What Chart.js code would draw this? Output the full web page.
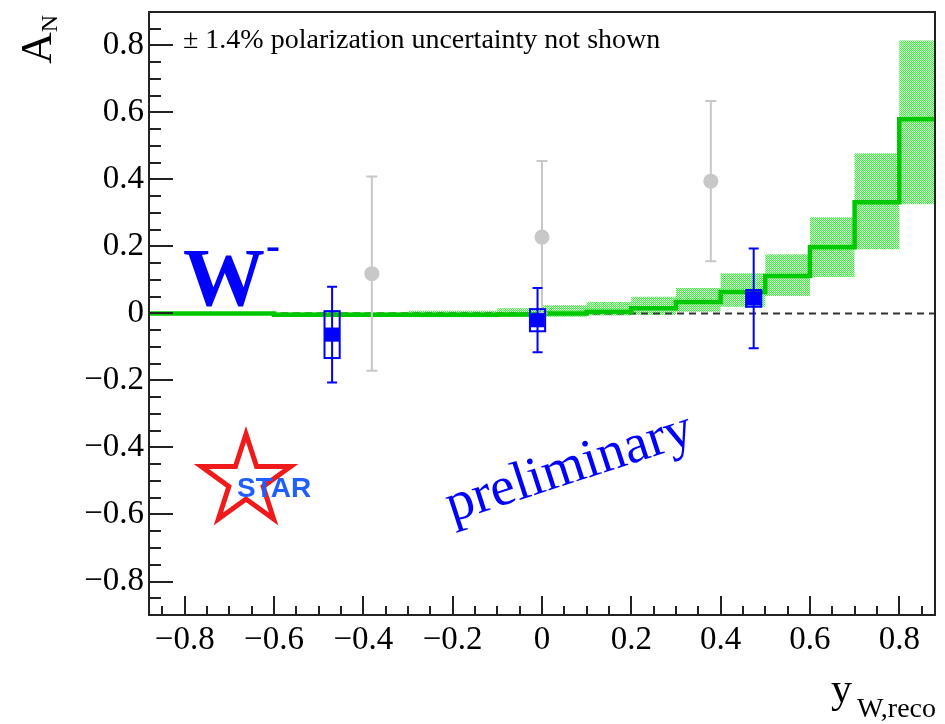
<!DOCTYPE html>
<html>
<head>
<meta charset="utf-8">
<script src="https://cdn.jsdelivr.net/npm/chart.js@4.4.1/dist/chart.umd.min.js"></script>
<style>
  html, body { margin: 0; padding: 0; background: #fff; }
  #wrap { width: 945px; height: 724px; }
</style>
</head>
<body>
<div id="wrap"><canvas id="chart" width="945" height="724"></canvas></div>
<script>
(function () {
  'use strict';

  /* ── Data ─────────────────────────────────────── */

  // theory histogram: 0.1 wide bins from -0.9 to 0.9
  const BIN_EDGES = [-0.9, -0.8, -0.7, -0.6, -0.5, -0.4, -0.3, -0.2, -0.1, 0,
                     0.1, 0.2, 0.3, 0.4, 0.5, 0.6, 0.7, 0.8, 0.9];
  const THEORY  = [0, 0, 0, -0.004, -0.004, -0.004, -0.004, -0.004, -0.003,
                   0, 0.005, 0.016, 0.034, 0.064, 0.112, 0.198, 0.332, 0.58];
  const BAND_LO = [-0.002, -0.002, -0.002, -0.01, -0.01, -0.01, -0.011, -0.011, -0.01,
                   -0.01, -0.006, -0.004, 0.005, 0.02, 0.052, 0.109, 0.192, 0.326];
  const BAND_HI = [0.002, 0.002, 0.002, 0.004, 0.004, 0.004, 0.008, 0.008, 0.016,
                   0.025, 0.034, 0.05, 0.076, 0.12, 0.177, 0.287, 0.478, 0.815];

  // STAR W- points (blue): value, stat. error, syst. error
  const BLUE_X    = [-0.47, -0.01, 0.474];
  const BLUE_Y    = [-0.063, -0.02, 0.045];
  const BLUE_STAT = [0.143, 0.096, 0.149];
  const BLUE_SYST = [0.07, 0.033, 0.025];

  // earlier points (grey)
  const GRAY_X   = [-0.381, 0.0, 0.378];
  const GRAY_Y   = [0.119, 0.228, 0.395];
  const GRAY_ERR = [0.29, 0.227, 0.239];

  const X_TICKS = [-0.8, -0.6, -0.4, -0.2, 0, 0.2, 0.4, 0.6, 0.8];
  const Y_TICKS = [-0.8, -0.6, -0.4, -0.2, 0, 0.2, 0.4, 0.6, 0.8];
  const X_MIN = -0.88, X_MAX = 0.88, Y_MIN = -0.9, Y_MAX = 0.9;
  const MINOR_STEP = 0.05;
  const BOX_HALF_W = 0.017;

  /* ── Helpers ───────────────────────────────────── */

  const SERIF = '"Liberation Serif", "DejaVu Serif", serif';

  function fmt(v) {
    if (Math.abs(v) < 1e-9) return '0';
    return (v < 0 ? '\u2212' : '') + Math.abs(v).toFixed(1);
  }

  function stepPoints(vals) {
    return BIN_EDGES.map((e, i) => ({ x: e, y: vals[Math.min(i, vals.length - 1)] }));
  }

  function points(xs, ys) {
    return xs.map((x, i) => ({ x: x, y: ys[i] }));
  }

  // ROOT-like dotted fill
  function dotPattern(color, light) {
    const c = document.createElement('canvas');
    c.width = 2; c.height = 2;
    const g = c.getContext('2d');
    g.fillStyle = light;
    g.fillRect(1, 0, 1, 1);
    g.fillStyle = color;
    g.fillRect(0, 0, 1, 1);
    g.fillRect(1, 1, 1, 1);
    return g.createPattern(c, 'repeat');
  }

  /* ── Plugins ───────────────────────────────────── */

  const errorBars = {
    id: 'errorBars',
    beforeDatasetDraw(chart, args) {
      const ds = chart.data.datasets[args.index];
      if (!ds.errY) return;
      const xs = chart.scales.x, ys = chart.scales.y;
      const ctx = chart.ctx;
      ctx.save();
      ctx.strokeStyle = ds.errColor;
      ctx.lineWidth = 2;
      ds.data.forEach((p, i) => {
        const px = xs.getPixelForValue(p.x);
        const top = ys.getPixelForValue(p.y + ds.errY[i]);
        const bot = ys.getPixelForValue(p.y - ds.errY[i]);
        ctx.beginPath();
        ctx.moveTo(px, top); ctx.lineTo(px, bot);
        ctx.moveTo(px - ds.capHalf, top); ctx.lineTo(px + ds.capHalf, top);
        ctx.moveTo(px - ds.capHalf, bot); ctx.lineTo(px + ds.capHalf, bot);
        ctx.stroke();
        if (ds.syst) {
          const l = xs.getPixelForValue(p.x - BOX_HALF_W);
          const r = xs.getPixelForValue(p.x + BOX_HALF_W);
          const t = ys.getPixelForValue(p.y + ds.syst[i]);
          const b = ys.getPixelForValue(p.y - ds.syst[i]);
          ctx.strokeRect(l, t, r - l, b - t);
        }
      });
      ctx.restore();
    }
  };

  const frameAndText = {
    id: 'frameAndText',
    afterDraw(chart) {
      const ctx = chart.ctx;
      const a = chart.chartArea;
      const xs = chart.scales.x, ys = chart.scales.y;
      ctx.save();

      // frame
      ctx.strokeStyle = '#222';
      ctx.lineWidth = 2;
      ctx.strokeRect(a.left, a.top, a.right - a.left, a.bottom - a.top);

      // inward ticks
      ctx.beginPath();
      for (let v = Math.ceil(Y_MIN / MINOR_STEP) * MINOR_STEP; v < Y_MAX - 1e-6; v += MINOR_STEP) {
        if (v <= Y_MIN + 1e-6) continue;
        const major = Y_TICKS.some((t) => Math.abs(t - v) < 1e-6);
        const py = Math.round(ys.getPixelForValue(v));
        ctx.moveTo(a.left, py);
        ctx.lineTo(a.left + (major ? 24 : 12), py);
      }
      for (let v = Math.ceil(X_MIN / MINOR_STEP) * MINOR_STEP; v < X_MAX - 1e-6; v += MINOR_STEP) {
        const major = X_TICKS.some((t) => Math.abs(t - v) < 1e-6);
        const px = Math.round(xs.getPixelForValue(v));
        ctx.moveTo(px, a.bottom);
        ctx.lineTo(px, a.bottom - (major ? 19 : 9));
      }
      ctx.stroke();

      // note
      ctx.fillStyle = '#000';
      ctx.textBaseline = 'alphabetic';
      ctx.font = '28px ' + SERIF;
      ctx.fillText('\u00b1 1.4% polarization uncertainty not shown', 183, 48);

      // axis titles
      ctx.save();
      ctx.translate(51, 64);
      ctx.rotate(-Math.PI / 2);
      ctx.font = '44px ' + SERIF;
      ctx.fillText('A', 0, 0);
      const wA = ctx.measureText('A').width;
      ctx.font = '24px ' + SERIF;
      ctx.fillText('N', wA, 6);
      ctx.restore();

      ctx.font = '42px ' + SERIF;
      ctx.fillText('y', 831, 702);
      ctx.font = '28px ' + SERIF;
      ctx.fillText('W,reco', 857, 717);

      // W- label
      ctx.fillStyle = '#0000ff';
      ctx.font = 'bold 82px ' + SERIF;
      ctx.fillText('W', 183, 305);
      ctx.font = 'bold 42px ' + SERIF;
      ctx.fillText('-', 266, 259);

      // preliminary
      ctx.save();
      ctx.translate(452, 522);
      ctx.rotate(-18 * Math.PI / 180);
      ctx.font = '55px ' + SERIF;
      ctx.fillText('preliminary', 0, 0);
      ctx.restore();

      // STAR logo
      const cx = 246, cy = 481, R = 47, r = 18;
      ctx.beginPath();
      for (let k = 0; k < 10; k++) {
        const ang = -Math.PI / 2 + k * Math.PI / 5;
        const rr = k % 2 === 0 ? R : r;
        const px = cx + rr * Math.cos(ang), py = cy + rr * Math.sin(ang);
        if (k === 0) ctx.moveTo(px, py); else ctx.lineTo(px, py);
      }
      ctx.closePath();
      ctx.strokeStyle = '#f01a1a';
      ctx.lineWidth = 5;
      ctx.lineJoin = 'miter';
      ctx.stroke();
      ctx.fillStyle = '#1f5fff';
      ctx.font = 'bold 28px "Liberation Sans", Arial, sans-serif';
      ctx.fillText('STAR', 237, 497);

      ctx.restore();
    }
  };

  /* ── Chart ─────────────────────────────────────── */

  const tickFont = { family: SERIF, size: 33 };

  new Chart(document.getElementById('chart'), {
    type: 'line',
    data: {
      datasets: [
        {
          data: stepPoints(BAND_HI), stepped: 'before', fill: '+1',
          backgroundColor: dotPattern('#33f533', 'rgba(150,250,150,0.6)'),
          borderColor: 'rgba(0,0,0,0)', borderWidth: 0, pointRadius: 0, order: 5
        },
        {
          data: stepPoints(BAND_LO), stepped: 'before', fill: false,
          borderColor: 'rgba(0,0,0,0)', borderWidth: 0, pointRadius: 0, order: 4
        },
        {
          data: [{ x: X_MIN, y: 0 }, { x: X_MAX, y: 0 }],
          borderColor: '#333', borderDash: [7, 5], borderWidth: 2, pointRadius: 0, order: 3
        },
        {
          data: stepPoints(THEORY), stepped: 'before', fill: false,
          borderColor: '#00c800', borderWidth: 4.5, pointRadius: 0, order: 2
        },
        {
          data: points(GRAY_X, GRAY_Y), showLine: false,
          pointStyle: 'circle', pointRadius: 7.5, pointBackgroundColor: '#c8c8c8',
          pointBorderWidth: 0, errY: GRAY_ERR, errColor: '#c8c8c8', capHalf: 5.5, order: 1
        },
        {
          data: points(BLUE_X, BLUE_Y), showLine: false,
          pointStyle: 'rect', pointRadius: 10, pointBackgroundColor: '#0000ff',
          pointBorderWidth: 0, errY: BLUE_STAT, syst: BLUE_SYST, errColor: '#0000ff',
          capHalf: 5, order: 0
        }
      ]
    },
    options: {
      responsive: false,
      animation: false,
      events: [],
      layout: { padding: { left: 0, top: 12, right: 7, bottom: 0 } },
      elements: { line: { tension: 0 } },
      plugins: { legend: { display: false }, tooltip: { enabled: false } },
      scales: {
        x: {
          type: 'linear', min: X_MIN, max: X_MAX,
          grid: { display: false, drawTicks: false },
          border: { display: false },
          afterBuildTicks: (s) => { s.ticks = X_TICKS.map((v) => ({ value: v })); },
          afterFit: (s) => { s.height = 109; s.paddingLeft = 0; s.paddingRight = 0; },
          ticks: { font: tickFont, color: '#000', padding: 6, maxRotation: 0, autoSkip: false, callback: fmt }
        },
        y: {
          type: 'linear', min: Y_MIN, max: Y_MAX,
          grid: { display: false, drawTicks: false },
          border: { display: false },
          afterBuildTicks: (s) => { s.ticks = Y_TICKS.map((v) => ({ value: v })); },
          afterFit: (s) => { s.width = 149; s.paddingTop = 0; s.paddingBottom = 0; },
          ticks: { font: tickFont, color: '#000', padding: 5, autoSkip: false, callback: fmt }
        }
      }
    },
    plugins: [errorBars, frameAndText]
  });
})();
</script>
</body>
</html>
